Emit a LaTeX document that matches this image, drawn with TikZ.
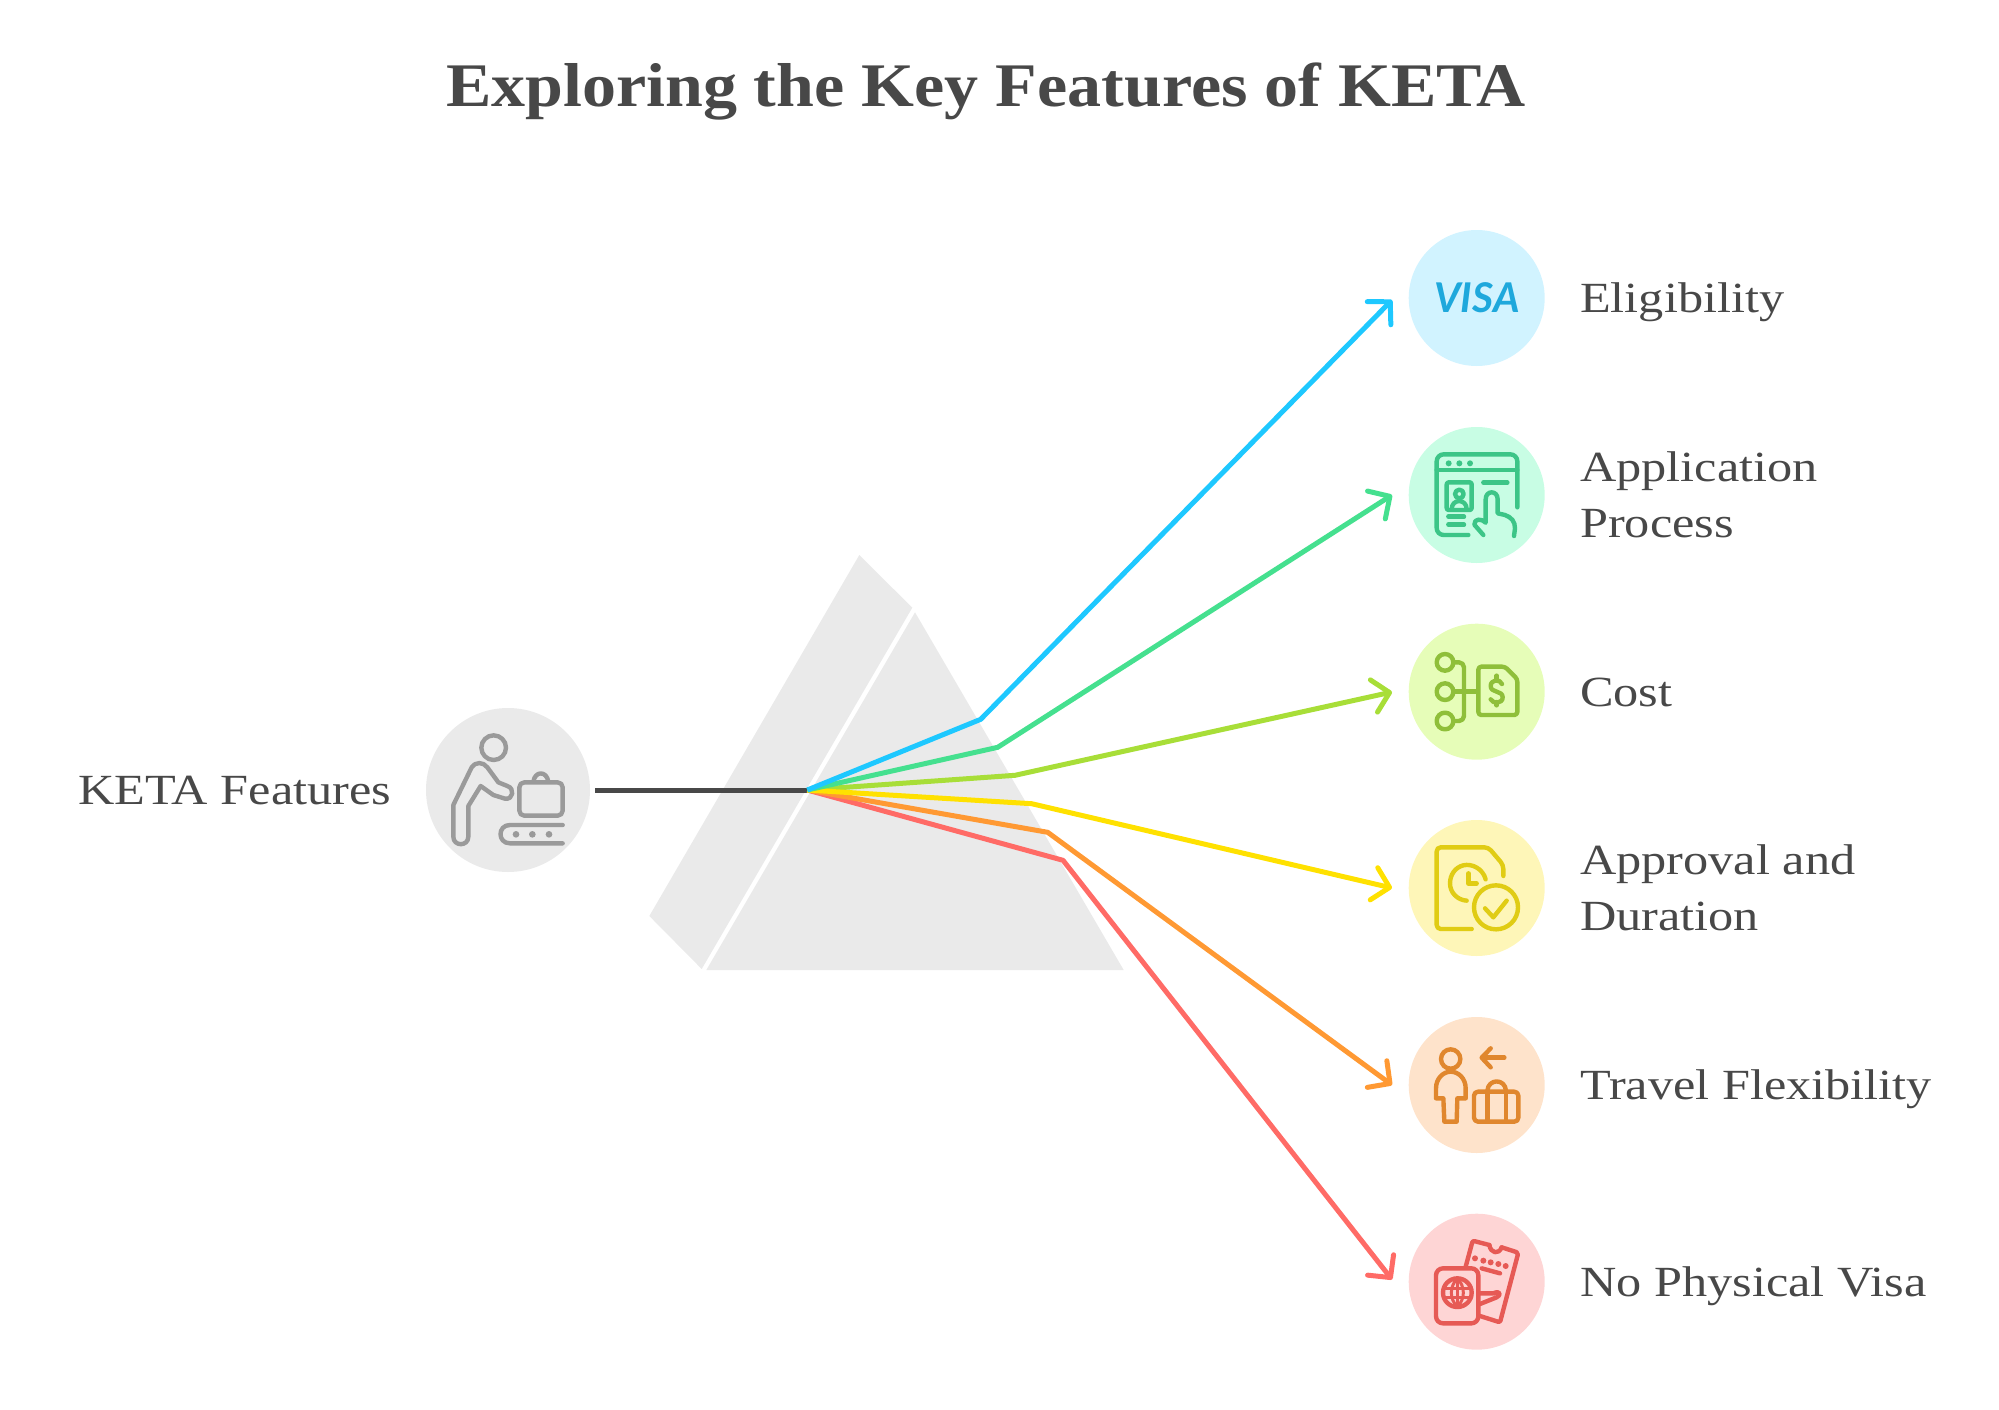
\documentclass[tikz,border=0pt]{standalone}
\usepackage{fontspec}
\usetikzlibrary{arrows.meta}
\setmainfont{Liberation Serif}
\newfontfamily\labelfont[FakeStretch=1.17]{Liberation Serif}
\newfontfamily\titlefont[FakeStretch=1.097]{Liberation Serif}
\newfontfamily\visafont{Lato}
\newcommand\lsx{\rule[-10pt]{0pt}{49pt}}
\definecolor{ink}{HTML}{484848}
\definecolor{prismgrey}{HTML}{EAEAEA}
\definecolor{cBlue}{HTML}{1EC8FF}
\definecolor{cGreen}{HTML}{45E08F}
\definecolor{cLime}{HTML}{A8DE38}
\definecolor{cYellow}{HTML}{FFE100}
\definecolor{cOrange}{HTML}{FF9933}
\definecolor{cRed}{HTML}{FF6B66}
\definecolor{dBlue}{HTML}{D1F3FF}
\definecolor{dGreen}{HTML}{C8FDE4}
\definecolor{dLime}{HTML}{E6FDB8}
\definecolor{dYellow}{HTML}{FEF6B8}
\definecolor{dOrange}{HTML}{FEE3CB}
\definecolor{dRed}{HTML}{FED5D5}
\definecolor{iGrey}{HTML}{9A9A9A}
\definecolor{iBlue}{HTML}{1EA8DC}
\definecolor{iGreen}{HTML}{3CC587}
\definecolor{iLime}{HTML}{8FBF3A}
\definecolor{iYellow}{HTML}{E0CC14}
\definecolor{iOrange}{HTML}{E0872E}
\definecolor{iRed}{HTML}{E65A55}
\tikzset{
  disc/.style={circle,inner sep=0pt,minimum size=136pt},
  lab/.style={anchor=west,text=ink,font=\labelfont\fontsize{43}{56}\selectfont,align=left,inner sep=0pt},
  ray/.style={line width=5pt,line join=round,-{Straight Barb[length=16pt,width=33pt,line cap=round,line join=round]}},
  ico/.style={line width=4.4pt,line cap=round,line join=round,fill=none},
  zoomed/.style 2 args={shift={(#1,#2)},x=0.33333pt,y=-0.33333pt}
}
\begin{document}
\begin{tikzpicture}[x=1pt,y=-1pt]
\useasboundingbox (0,0) rectangle (1999,1410);
% title
\node[text=ink,font=\titlefont\bfseries\fontsize{62}{70}\selectfont,inner sep=0pt] (title) at (986,92) {Exploring the Key Features of KETA};
% prism
\fill[prismgrey] (859.3,555) -- (912.3,607.7) -- (701.7,969) -- (649.3,916) -- cycle;
\fill[prismgrey] (915,612.3) -- (1123.7,970) -- (706.3,970) -- cycle;
% discs
\node[disc,fill=prismgrey,minimum size=164pt] (ketaD) at (508,790) {};
\node[disc,fill=dBlue] (d1) at (1476.7,298) {};
\node[disc,fill=dGreen] (d2) at (1476.7,495) {};
\node[disc,fill=dLime] (d3) at (1476.7,691.7) {};
\node[disc,fill=dYellow] (d4) at (1476.7,888) {};
\node[disc,fill=dOrange] (d5) at (1476.7,1085) {};
\node[disc,fill=dRed] (d6) at (1476.7,1281.7) {};
% labels
\node[lab] (l0) at (78,790) {\lsx KETA Features};
\node[lab] (l1) at (1580,298) {\lsx Eligibility};
\node[lab] (l2) at (1580,495) {\lsx Application\\\lsx Process};
\node[lab] (l3) at (1580,691.7) {\lsx Cost};
\node[lab] (l4) at (1580,888) {\lsx Approval and\\\lsx Duration};
\node[lab] (l5) at (1580,1085) {\lsx Travel Flexibility};
\node[lab] (l6) at (1580,1281.7) {\lsx No Physical Visa};
% connector points
\coordinate (rayin) at (595,790);
\coordinate (conv) at (807.3,790);
\coordinate (b1) at (980.7,719.3);
\coordinate (b2) at (997.7,747.3);
\coordinate (b3) at (1015,775.3);
\coordinate (b4) at (1031.7,803.7);
\coordinate (b5) at (1047.7,832.3);
\coordinate (b6) at (1063,860.3);
\coordinate (e1) at (1392,300);
\coordinate (e2) at (1392,495);
\coordinate (e3) at (1392,692);
\coordinate (e4) at (1392,888);
\coordinate (e5) at (1392,1085);
\coordinate (e6) at (1392,1279.5);
\draw[ink,line width=5pt] (rayin) -- (conv);
\draw[ray,cRed] (conv) -- (b6) -- (e6);
\draw[ray,cOrange] (conv) -- (b5) -- (e5);
\draw[ray,cLime] (conv) -- (b3) -- (e3);
\draw[ray,cYellow] (conv) -- (b4) -- (e4);
\draw[ray,cGreen] (conv) -- (b2) -- (e2);
\draw[ray,cBlue] (conv) -- (b1) -- (e1);
% icon: person at baggage belt
\begin{scope}[zoomed={400}{680}]
\begin{scope}[ico,draw=iGrey]
\draw (281,203) circle[radius=37];
\draw (160,375) -- (215,262) .. controls (225,245) and (250,245) .. (262,262) -- (295,307) -- (322,318) .. controls (345,325) and (340,360) .. (315,356) -- (280,345) -- (242,318) -- (205,378) -- (205,470) .. controls (205,500) and (160,500) .. (160,470) -- cycle;
\draw[rounded corners=5pt] (358,307) rectangle (488,407);
\draw (400,305) .. controls (405,272) and (440,272) .. (445,305);
\draw (488,435) -- (330,435) .. controls (292,435) and (292,490) .. (330,490) -- (488,490);
\end{scope}
\fill[iGrey] (348,463) circle[radius=10] (397,463) circle[radius=10] (447,463) circle[radius=10];
\end{scope}
% icon: visa
\node[text=iBlue,font=\visafont\bfseries\itshape\fontsize{41}{41}\selectfont,inner sep=0pt] (visa) at (1477,298) {VISA};
% icon: application window
\begin{scope}[zoomed={1400}{220}]
\begin{scope}[ico,draw=iGreen]
\draw[rounded corners=7pt] (205,945) -- (110,945) -- (110,703) -- (352,703) -- (352,862);
\draw (110,750) -- (352,750);
\draw[rounded corners=2pt] (140,787) rectangle (215,870);
\draw (178,822) circle[radius=13];
\draw (155,868) .. controls (155,835) and (200,835) .. (200,868);
\draw (250,788) -- (322,788);
\draw (145,890) -- (192,890);
\draw (145,914) -- (192,914);
\draw (250,945) -- (223,914) .. controls (222,895) and (245,895) .. (257,908) -- (257,838) .. controls (257,810) and (293,810) .. (293,838) -- (293,880) -- (315,885) .. controls (335,892) and (345,905) .. (345,925) -- (342,948);
\end{scope}
\fill[iGreen] (146,730) circle[radius=9] (178,730) circle[radius=9] (210,730) circle[radius=9];
\end{scope}
% icon: cost
\begin{scope}[zoomed={1400}{610},ico,draw=iLime]
\draw (135,157) circle[radius=25] (135,245) circle[radius=25] (135,333) circle[radius=25];
\draw[rounded corners=5pt] (160,157) -- (192,157) -- (192,333) -- (160,333);
\draw (160,245) -- (232,245);
\draw[rounded corners=3pt] (235,170) -- (315,170) -- (352,207) -- (352,315) -- (235,315) -- cycle;
\draw (306,222) .. controls (300,206) and (272,208) .. (272,228) .. controls (272,250) and (308,240) .. (308,262) .. controls (308,282) and (278,282) .. (272,268);
\draw (290,197) -- (290,208);
\draw (290,276) -- (290,286);
\end{scope}
% icon: approval
\begin{scope}[zoomed={1400}{610},ico,draw=iYellow]
\draw[rounded corners=4pt] (310,798) -- (310,765) -- (265,712) -- (110,712) -- (110,957) -- (215,957);
\draw (257,808) .. controls (248,775) and (215,760) .. (190,766) .. controls (165,772) and (150,795) .. (150,820) .. controls (150,848) and (172,870) .. (200,872);
\draw (205,790) -- (205,820) -- (230,820);
\draw (288,892) circle[radius=66];
\draw (255,895) -- (280,922) -- (320,872);
\end{scope}
% icon: traveller
\begin{scope}[zoomed={1400}{1010},ico,draw=iOrange]
\draw (152,147) circle[radius=29];
\draw (108,265) -- (108,235) .. controls (108,205) and (130,185) .. (152,185) .. controls (175,185) and (197,205) .. (197,235) -- (197,265) -- (172,265) -- (170,335) -- (133,335) -- (130,265) -- cycle;
\draw (313,143) -- (248,143);
\draw (272,115) -- (245,143) -- (272,172);
\draw[rounded corners=4pt] (222,245) rectangle (355,335);
\draw (262,245) -- (262,335);
\draw (318,245) -- (318,335);
\draw (262,242) .. controls (265,205) and (315,205) .. (318,242);
\end{scope}
% icon: passport and ticket
\begin{scope}[zoomed={1400}{1010}]
\begin{scope}[ico,draw=iRed]
\draw[rounded corners=7pt] (108,775) rectangle (235,940);
\draw (172,848) circle[radius=43];
\begin{scope}[line width=3pt]
\draw (130,835) -- (215,835);
\draw (130,862) -- (215,862);
\draw (172,805) -- (172,891);
\draw (172,805) .. controls (148,830) and (148,866) .. (172,891);
\draw (172,805) .. controls (196,830) and (196,866) .. (172,891);
\end{scope}
\draw[rounded corners=2pt] (197,770) -- (218,692) -- (268,705);
\draw (268,705) .. controls (272,730) and (296,735) .. (305,712);
\draw[rounded corners=2pt] (305,712) -- (355,728) -- (300,937) -- (240,918);
\draw (245,775) -- (300,790);
\draw (240,850) -- (280,850) .. controls (300,840) and (305,855) .. (290,862) -- (240,882);
\end{scope}
\fill[iRed] (225,745) circle[radius=9] (250,752) circle[radius=9] (272,757) circle[radius=9] (295,762) circle[radius=9] (317,768) circle[radius=9];
\end{scope}
\end{tikzpicture}
\end{document}
